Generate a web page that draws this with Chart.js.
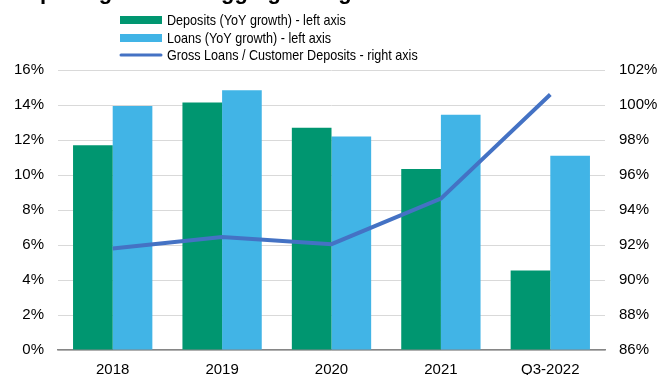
<!DOCTYPE html>
<html>
<head>
<meta charset="utf-8">
<script src="https://cdn.jsdelivr.net/npm/chart.js@4/dist/chart.umd.min.js"></script>
<style>
  html, body { margin: 0; padding: 0; background: #ffffff; }
  #wrap { width: 660px; height: 375px; position: relative; }
</style>
</head>
<body>
<div id="wrap"><canvas id="growth-chart"></canvas></div>
<script>
// ===== DATA =====
const categories = ['2018', '2019', '2020', '2021', 'Q3-2022'];
const depositsGrowth = [11.7, 14.15, 12.7, 10.35, 4.55];   // % YoY, left axis
const loansGrowth = [13.95, 14.85, 12.2, 13.45, 11.1];     // % YoY, left axis
const loanToDeposit = [91.8, 92.45, 92.05, 94.65, 100.6];  // %, right axis
const leftTicks = [0, 2, 4, 6, 8, 10, 12, 14, 16];
const rightTicks = [86, 88, 90, 92, 94, 96, 98, 100, 102];

// placeholder wording: the heading sits above the canvas and only its descenders are drawn
const TITLE = 'Deposit growth is lagging loan growth';

const GREEN = '#009670';
const BLUE = '#41b4e6';
const LINE = '#4472c4';
const FONT = "'Liberation Sans', Arial, sans-serif";

// ===== PLUGINS =====

// heading clipped by the top edge of the canvas
const titlePlugin = {
    id: 'cutTitle',
    afterDraw(chart) {
        const ctx = chart.ctx;
        ctx.save();
        ctx.fillStyle = '#000000';
        ctx.font = 'bold 22px ' + FONT;
        ctx.textBaseline = 'alphabetic';
        ctx.fillText(TITLE, 12, -1);
        ctx.restore();
    }
};

// stacked legend, left aligned near the middle of the top band
const legendPlugin = {
    id: 'stackLegend',
    afterDraw(chart) {
        const ctx = chart.ctx;
        const x0 = 120;
        const rows = [20, 38, 55];
        ctx.save();
        chart.data.datasets.forEach((ds, i) => {
            const y = rows[i];
            if (ds.type === 'line') {
                ctx.strokeStyle = ds.borderColor;
                ctx.lineWidth = 3;
                ctx.lineCap = 'round';
                ctx.beginPath();
                ctx.moveTo(x0 + 1, y);
                ctx.lineTo(x0 + 41, y);
                ctx.stroke();
            } else {
                ctx.fillStyle = ds.backgroundColor;
                ctx.fillRect(x0, y - 4, 42, 8);
            }
            ctx.fillStyle = '#000000';
            ctx.font = '15px ' + FONT;
            ctx.textBaseline = 'middle';
            const w = ctx.measureText(ds.label).width;
            ctx.fillText(ds.label, x0 + 47, y + 1, w * 0.84);
        });
        ctx.restore();
    }
};

// ===== CHART =====
function init_chart() {
    const ctx = document.getElementById('growth-chart').getContext('2d');

    new Chart(ctx, {
        data: {
            labels: categories,
            datasets: [
                {
                    type: 'bar',
                    label: 'Deposits (YoY growth) - left axis',
                    data: depositsGrowth,
                    backgroundColor: GREEN,
                    yAxisID: 'y',
                    categoryPercentage: 0.725,
                    barPercentage: 1.0,
                    order: 2
                },
                {
                    type: 'bar',
                    label: 'Loans (YoY growth) - left axis',
                    data: loansGrowth,
                    backgroundColor: BLUE,
                    yAxisID: 'y',
                    categoryPercentage: 0.725,
                    barPercentage: 1.0,
                    order: 2
                },
                {
                    type: 'line',
                    label: 'Gross Loans / Customer Deposits - right axis',
                    data: loanToDeposit,
                    borderColor: LINE,
                    borderWidth: 4,
                    pointRadius: 0,
                    tension: 0,
                    yAxisID: 'y1',
                    order: 1
                }
            ]
        },
        options: {
            responsive: true,
            maintainAspectRatio: false,
            animation: false,
            layout: { padding: { top: 70, left: 0, right: 0, bottom: 0 } },
            plugins: {
                legend: { display: false },
                tooltip: { enabled: false }
            },
            scales: {
                x: {
                    grid: { display: false, drawTicks: false },
                    border: { display: true, color: '#868686', width: 1.5 },
                    ticks: { color: '#000000', font: { family: FONT, size: 15 }, padding: 11 },
                    afterFit(scale) { scale.height = 25; }
                },
                y: {
                    position: 'left',
                    min: 0,
                    max: 16,
                    afterBuildTicks(scale) { scale.ticks = leftTicks.map(v => ({ value: v })); },
                    grid: { color: '#d9d9d9', lineWidth: 1, drawTicks: false },
                    border: { display: false },
                    ticks: {
                        color: '#000000',
                        font: { family: FONT, size: 15 },
                        padding: 14,
                        callback: v => v + '%'
                    },
                    afterFit(scale) { scale.width = 58; }
                },
                y1: {
                    position: 'right',
                    min: 86,
                    max: 102,
                    afterBuildTicks(scale) { scale.ticks = rightTicks.map(v => ({ value: v })); },
                    grid: { display: false, drawTicks: false },
                    border: { display: false },
                    ticks: {
                        color: '#000000',
                        font: { family: FONT, size: 15 },
                        padding: 14,
                        callback: v => v + '%'
                    },
                    afterFit(scale) { scale.width = 55; }
                }
            }
        },
        plugins: [titlePlugin, legendPlugin]
    });
}

window.addEventListener('load', () => {
    init_chart();
});
</script>
</body>
</html>
